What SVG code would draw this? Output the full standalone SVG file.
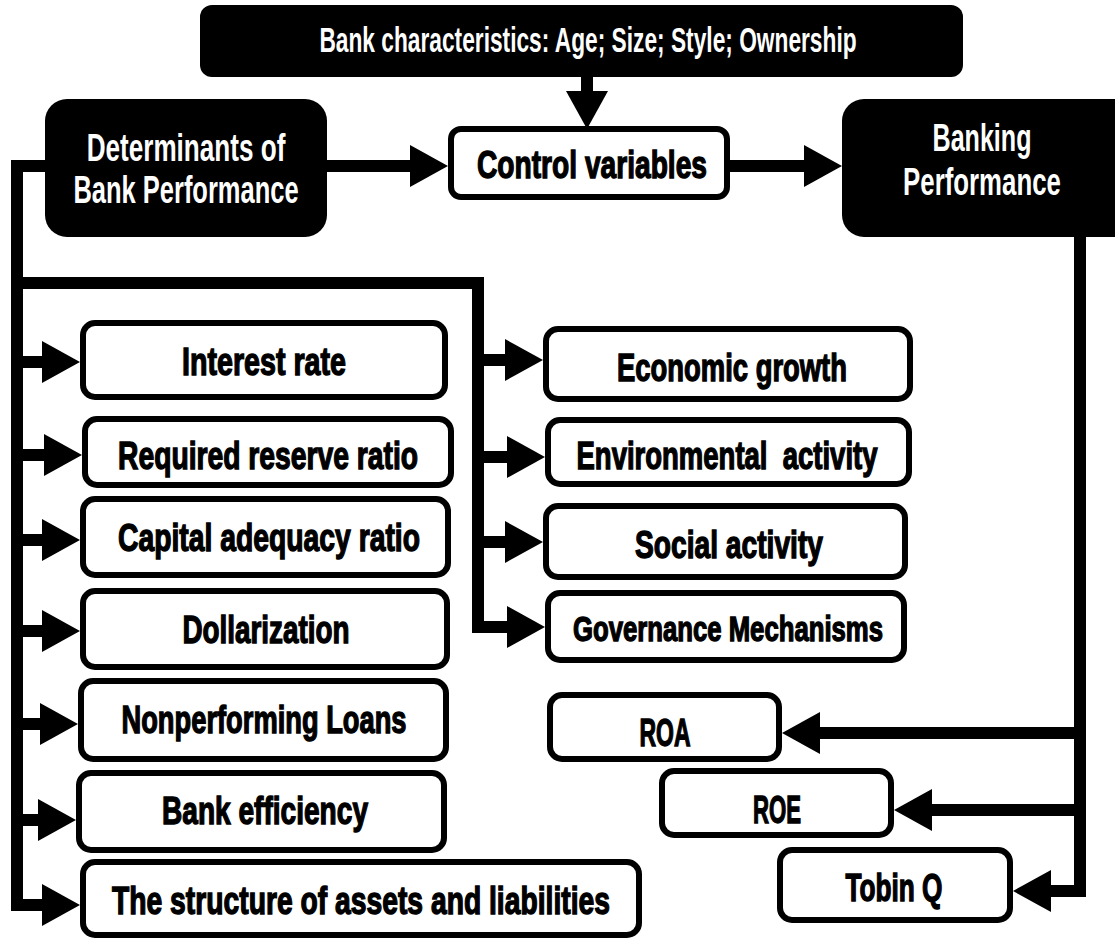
<svg xmlns="http://www.w3.org/2000/svg" width="1115" height="941" viewBox="0 0 1115 941">
<style>
  .dark { fill: #000; }
  .box { fill: #fff; stroke: #000; stroke-width: 6; }
  .lbl { font-family: "Liberation Sans", Arial, sans-serif; font-weight: bold; font-size: 39px; text-anchor: middle; fill: #000; stroke: #000; stroke-width: 1.4; }
  .wlbl { font-family: "Liberation Sans", Arial, sans-serif; font-weight: bold; font-size: 38px; text-anchor: middle; fill: #fff; }
  .sm { font-size: 35px; }
  .con { fill: none; stroke: #000; stroke-width: 12; stroke-linejoin: miter; }
</style>
<defs>
  <marker id="ah" viewBox="0 0 38 42" markerWidth="38" markerHeight="42" refX="2" refY="21" markerUnits="userSpaceOnUse" orient="auto">
    <path d="M0,0 L38,21 L0,42 z" fill="#000"/>
  </marker>
</defs>
<rect width="1115" height="941" fill="#fff"/>

<g id="connectors">
  <path class="con" d="M587,76 V93" marker-end="url(#ah)"/>
  <path class="con" d="M327,166 H412" marker-end="url(#ah)"/>
  <path class="con" d="M730,166 H806" marker-end="url(#ah)"/>
  <path class="con" d="M45,166 H17 V905 H44" marker-end="url(#ah)"/>
  <path class="con" d="M17,362 H44" marker-end="url(#ah)"/>
  <path class="con" d="M17,455 H46" marker-end="url(#ah)"/>
  <path class="con" d="M17,540 H44" marker-end="url(#ah)"/>
  <path class="con" d="M17,631 H44" marker-end="url(#ah)"/>
  <path class="con" d="M17,724 H42" marker-end="url(#ah)"/>
  <path class="con" d="M17,820 H40" marker-end="url(#ah)"/>
  <path class="con" d="M17,283 H478 V627 H509" marker-end="url(#ah)"/>
  <path class="con" d="M478,360 H507" marker-end="url(#ah)"/>
  <path class="con" d="M478,457 H509" marker-end="url(#ah)"/>
  <path class="con" d="M478,542 H507" marker-end="url(#ah)"/>
  <path class="con" d="M1080,237 V891 H1049" marker-end="url(#ah)"/>
  <path class="con" d="M1080,733 H818" marker-end="url(#ah)"/>
  <path class="con" d="M1080,810 H930" marker-end="url(#ah)"/>
</g>

<g id="bank-characteristics">
  <rect class="dark" x="200" y="5" width="763" height="72" rx="12"/>
  <text class="wlbl sm" transform="translate(588,52) scale(0.648,1)" x="0" y="0" textLength="829" lengthAdjust="spacingAndGlyphs">Bank characteristics: Age; Size; Style; Ownership</text>
</g>
<g id="determinants">
  <rect class="dark" x="45" y="99" width="282" height="138" rx="22"/>
  <text class="wlbl" transform="translate(186,161) scale(0.69,1)" x="0" y="0" textLength="288" lengthAdjust="spacingAndGlyphs">Determinants of</text>
  <text class="wlbl" transform="translate(186,203) scale(0.67,1)" x="0" y="0" textLength="336" lengthAdjust="spacingAndGlyphs">Bank Performance</text>
</g>
<g id="control-variables">
  <rect class="box" x="451" y="129" width="276" height="68" rx="10"/>
  <text class="lbl" x="592" y="178" textLength="230" lengthAdjust="spacingAndGlyphs">Control variables</text>
</g>
<g id="banking-performance">
  <path class="dark" d="M864,99 H1115 V237 H864 A22,22 0 0 1 842,215 V121 A22,22 0 0 1 864,99 Z"/>
  <text class="wlbl" transform="translate(982,151) scale(0.66,1)" x="0" y="0" textLength="150" lengthAdjust="spacingAndGlyphs">Banking</text>
  <text class="wlbl" transform="translate(982,195) scale(0.68,1)" x="0" y="0" textLength="232" lengthAdjust="spacingAndGlyphs">Performance</text>
</g>

<g id="interest-rate">
  <rect class="box" x="83" y="323" width="362" height="74" rx="12"/>
  <text class="lbl" x="264" y="375" textLength="164" lengthAdjust="spacingAndGlyphs">Interest rate</text>
</g>
<g id="required-reserve-ratio">
  <rect class="box" x="85" y="419" width="366" height="66" rx="12"/>
  <text class="lbl" x="268" y="469" textLength="300" lengthAdjust="spacingAndGlyphs">Required reserve ratio</text>
</g>
<g id="capital-adequacy-ratio">
  <rect class="box" x="83" y="499" width="365" height="76" rx="12"/>
  <text class="lbl" x="269" y="551" textLength="302" lengthAdjust="spacingAndGlyphs">Capital adequacy ratio</text>
</g>
<g id="dollarization">
  <rect class="box" x="83" y="591" width="364" height="76" rx="12"/>
  <text class="lbl" x="266" y="643" textLength="167" lengthAdjust="spacingAndGlyphs">Dollarization</text>
</g>
<g id="nonperforming-loans">
  <rect class="box" x="81" y="681" width="365" height="78" rx="12"/>
  <text class="lbl" x="264" y="733" textLength="285" lengthAdjust="spacingAndGlyphs">Nonperforming Loans</text>
</g>
<g id="bank-efficiency">
  <rect class="box" x="79" y="773" width="365" height="77" rx="12"/>
  <text class="lbl" x="265" y="824" textLength="206" lengthAdjust="spacingAndGlyphs">Bank efficiency</text>
</g>
<g id="structure-assets-liabilities">
  <rect class="box" x="83" y="862" width="556" height="73" rx="12"/>
  <text class="lbl" x="361" y="914" textLength="498" lengthAdjust="spacingAndGlyphs">The structure of assets and liabilities</text>
</g>

<g id="economic-growth">
  <rect class="box" x="546" y="329" width="364" height="70" rx="12"/>
  <text class="lbl" x="732" y="381" textLength="230" lengthAdjust="spacingAndGlyphs">Economic growth</text>
</g>
<g id="environmental-activity">
  <rect class="box" x="548" y="420" width="361" height="64" rx="12"/>
  <text class="lbl" x="727" y="469" textLength="301" lengthAdjust="spacingAndGlyphs" xml:space="preserve">Environmental  activity</text>
</g>
<g id="social-activity">
  <rect class="box" x="546" y="506" width="359" height="71" rx="12"/>
  <text class="lbl" x="729" y="558" textLength="188" lengthAdjust="spacingAndGlyphs">Social activity</text>
</g>
<g id="governance-mechanisms">
  <rect class="box" x="548" y="593" width="356" height="67" rx="12"/>
  <text class="lbl sm" x="728" y="641" textLength="310" lengthAdjust="spacingAndGlyphs">Governance Mechanisms</text>
</g>

<g id="roa">
  <rect class="box" x="550" y="695" width="229" height="64" rx="12"/>
  <text class="lbl" x="665" y="746" textLength="51" lengthAdjust="spacingAndGlyphs">ROA</text>
</g>
<g id="roe">
  <rect class="box" x="662" y="771" width="229" height="64" rx="12"/>
  <text class="lbl" x="777" y="823" textLength="48" lengthAdjust="spacingAndGlyphs">ROE</text>
</g>
<g id="tobin-q">
  <rect class="box" x="780" y="850" width="230" height="70" rx="12"/>
  <text class="lbl" x="894" y="901" textLength="97" lengthAdjust="spacingAndGlyphs">Tobin Q</text>
</g>
</svg>
